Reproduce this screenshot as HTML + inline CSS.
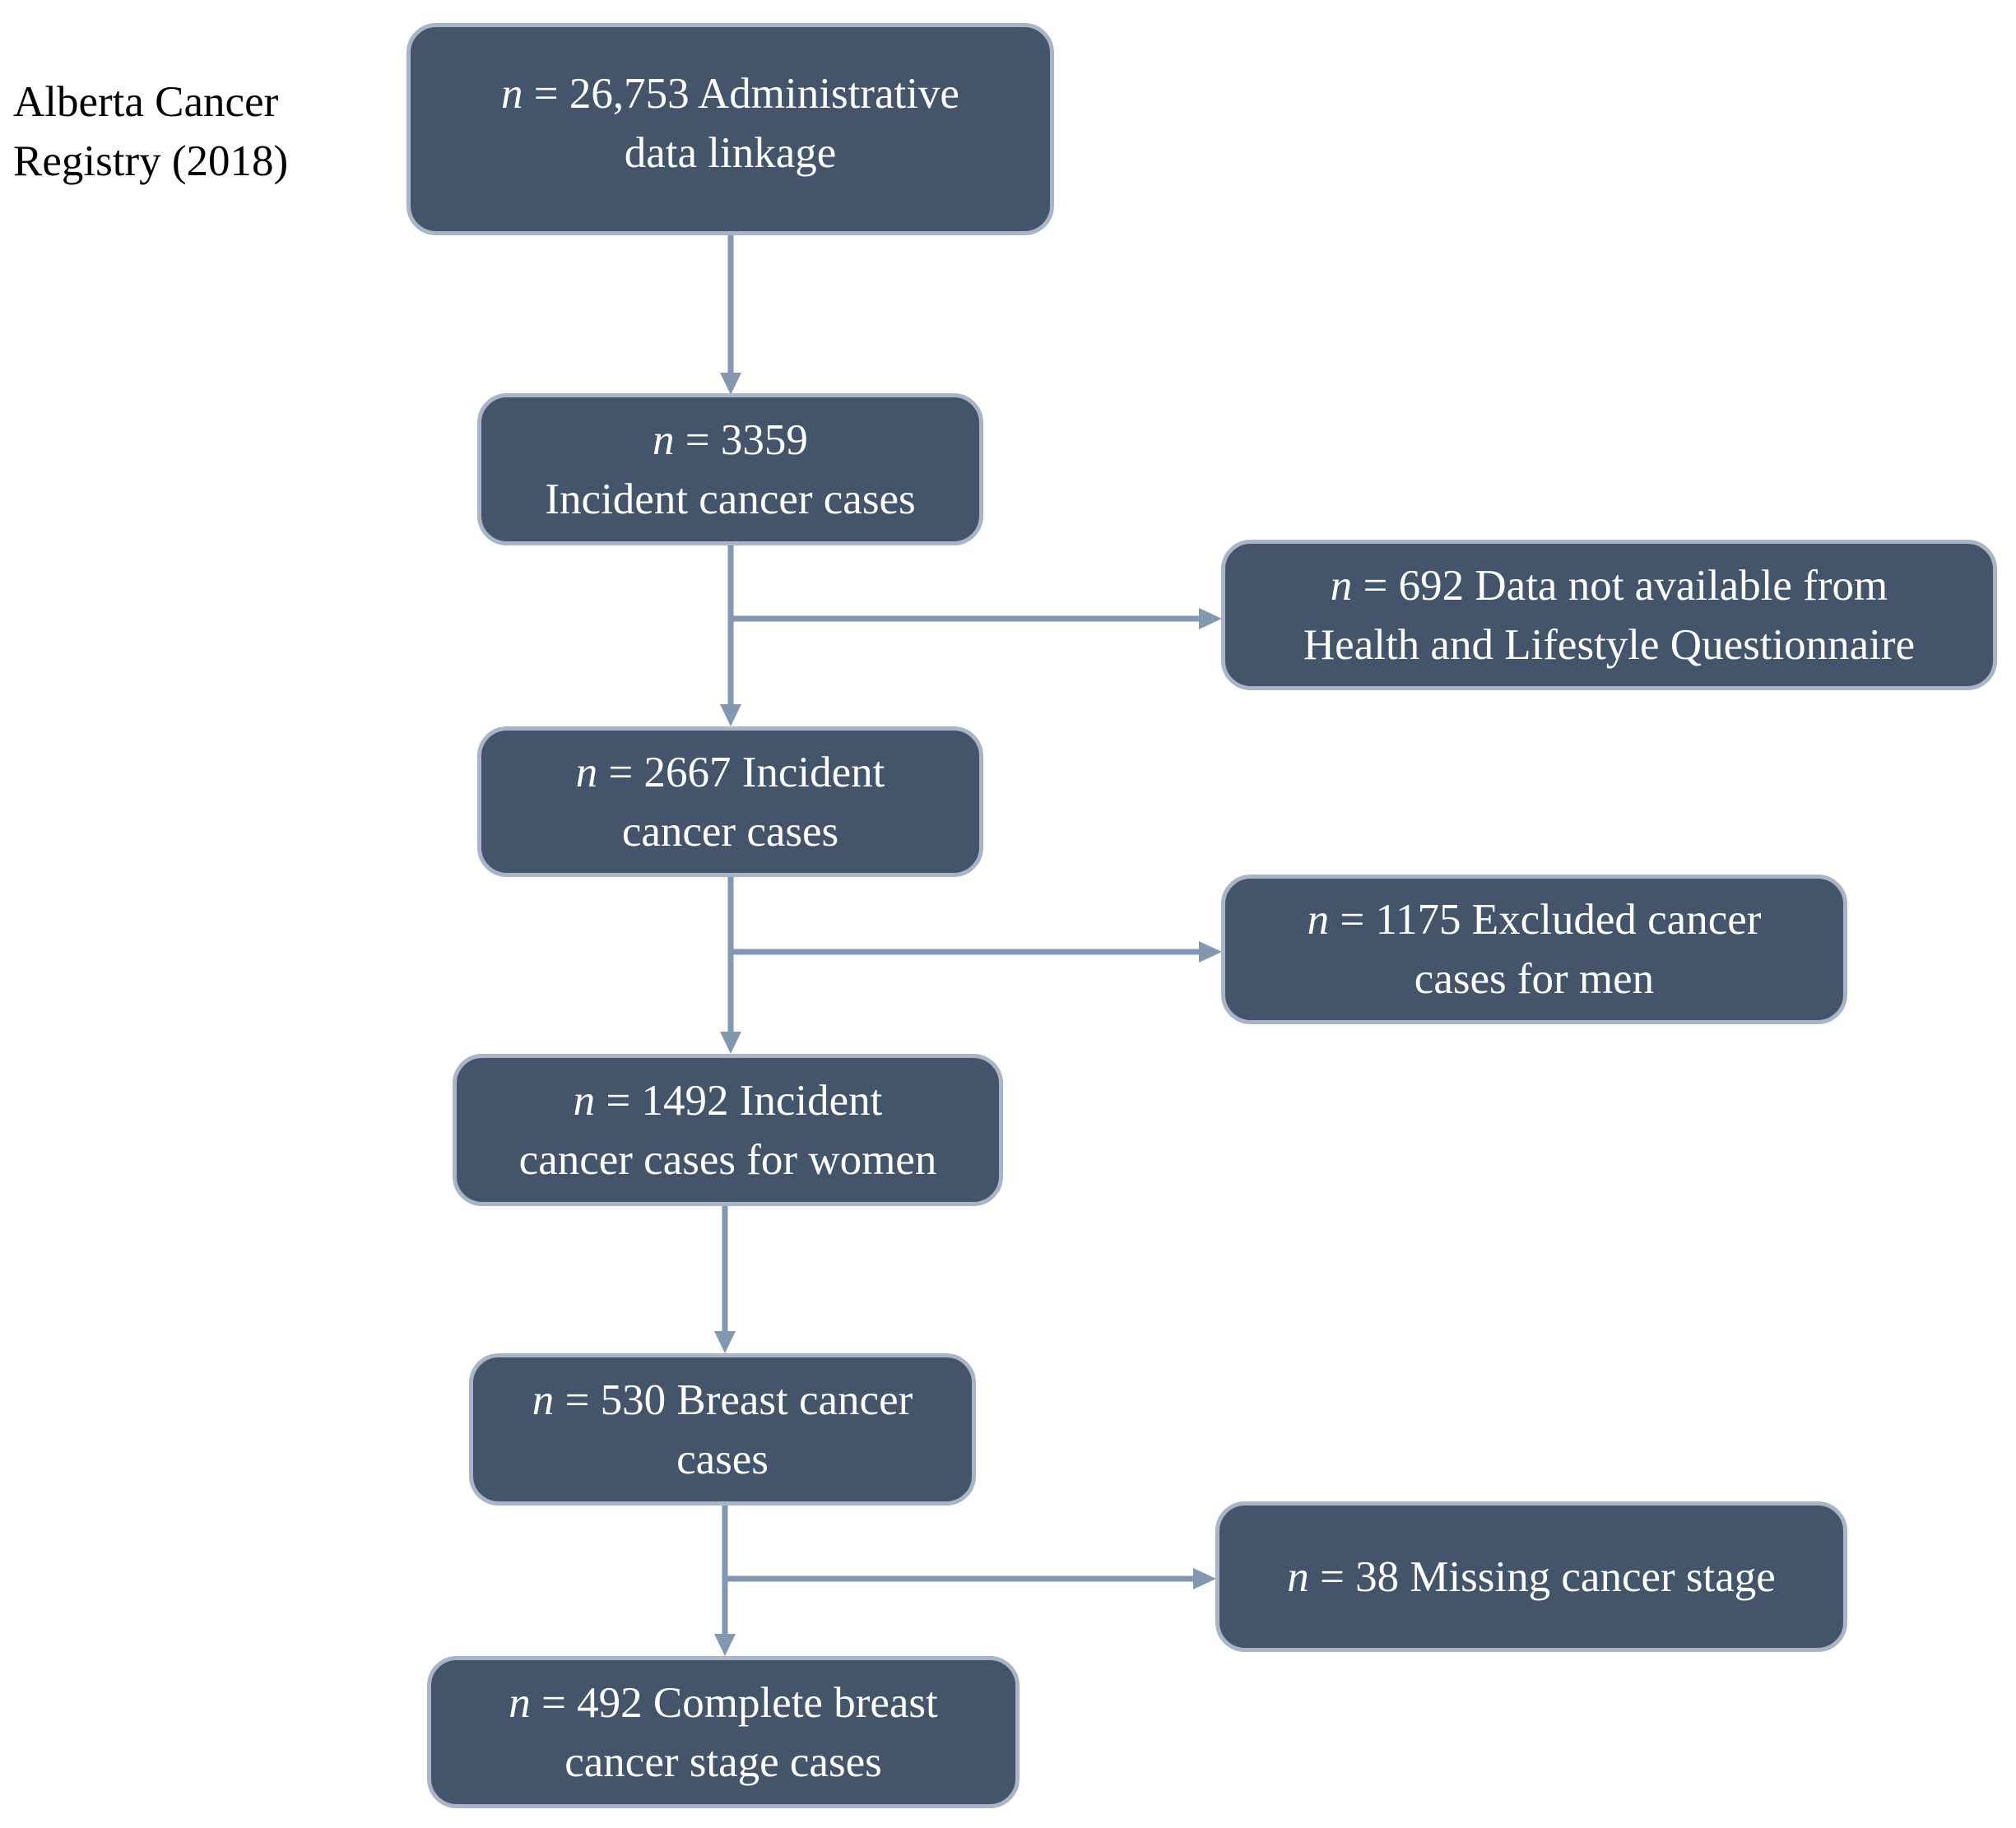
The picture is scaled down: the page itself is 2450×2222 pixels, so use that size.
<!DOCTYPE html>
<html><head><meta charset="utf-8"><style>
html,body{margin:0;padding:0;background:#fff;}
body{width:2450px;height:2222px;position:relative;overflow:hidden;font-family:"Liberation Serif",serif;}
.b{position:absolute;box-sizing:border-box;background:#44546a;border:5px solid #a9b4c6;border-radius:36px;color:#fff;font-size:53px;line-height:72px;display:flex;align-items:center;justify-content:center;text-align:center;white-space:nowrap;}
.b i{font-style:italic;}
.lbl{position:absolute;left:16px;top:88px;font-size:53px;line-height:72px;color:#000;}
svg{position:absolute;left:0;top:0;}
</style></head><body>
<svg width="2450" height="2222">
<g stroke="#8497b0" stroke-width="7" fill="none">
<line x1="888" y1="286" x2="888" y2="455"/>
<line x1="888" y1="663" x2="888" y2="858"/>
<line x1="888" y1="752" x2="1460" y2="752"/>
<line x1="888" y1="1066" x2="888" y2="1256"/>
<line x1="888" y1="1157" x2="1460" y2="1157"/>
<line x1="881" y1="1466" x2="881" y2="1620"/>
<line x1="881" y1="1830" x2="881" y2="1988"/>
<line x1="881" y1="1919" x2="1453" y2="1919"/>
</g>
<g fill="#8497b0">
<polygon points="875,453 901,453 888,480"/>
<polygon points="875,856 901,856 888,883"/>
<polygon points="875,1254 901,1254 888,1281"/>
<polygon points="868,1618 894,1618 881,1645"/>
<polygon points="868,1986 894,1986 881,2013"/>
<polygon points="1457,739 1457,765 1485,752"/>
<polygon points="1457,1144 1457,1170 1485,1157"/>
<polygon points="1450,1906 1450,1932 1478,1919"/>
</g>
</svg>
<div class="lbl">Alberta Cancer<br>Registry (2018)</div>
<div class="b" style="left:494px;top:28px;width:787px;height:258px;padding-bottom:14px"><div><i>n</i> = 26,753 Administrative<br>data linkage</div></div>
<div class="b" style="left:580px;top:478px;width:615px;height:185px"><div><i>n</i> = 3359<br>Incident cancer cases</div></div>
<div class="b" style="left:1484px;top:656px;width:943px;height:183px"><div><i>n</i> = 692 Data not available from<br>Health and Lifestyle Questionnaire</div></div>
<div class="b" style="left:580px;top:883px;width:615px;height:183px"><div><i>n</i> = 2667 Incident<br>cancer cases</div></div>
<div class="b" style="left:1484px;top:1063px;width:761px;height:182px"><div><i>n</i> = 1175 Excluded cancer<br>cases for men</div></div>
<div class="b" style="left:550px;top:1281px;width:669px;height:185px"><div><i>n</i> = 1492 Incident<br>cancer cases for women</div></div>
<div class="b" style="left:570px;top:1645px;width:616px;height:185px"><div><i>n</i> = 530 Breast cancer<br>cases</div></div>
<div class="b" style="left:1477px;top:1825px;width:768px;height:183px"><div><i>n</i> = 38 Missing cancer stage</div></div>
<div class="b" style="left:519px;top:2013px;width:720px;height:185px"><div><i>n</i> = 492 Complete breast<br>cancer stage cases</div></div>
</body></html>
